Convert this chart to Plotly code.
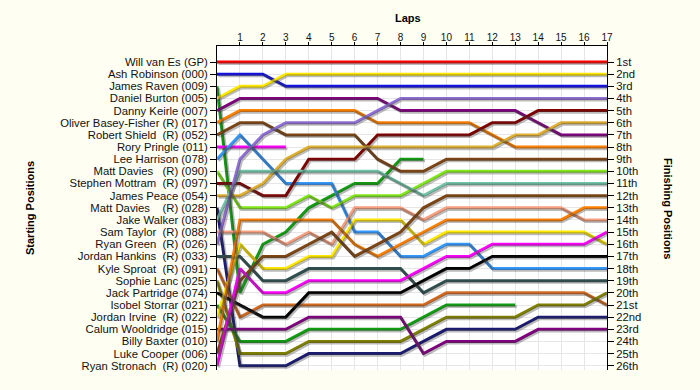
import plotly.graph_objects as go

laps = list(range(18))
lap_ticks = list(range(1, 18))

drivers = [
    "Will van Es (GP)", "Ash Robinson (000)", "James Raven (009)", "Daniel Burton (005)",
    "Danny Keirle (007)", "Oliver Basey-Fisher (R) (017)", "Robert Shield\u00a0\u00a0(R) (052)",
    "Rory Pringle (011)", "Lee Harrison (078)", "Matt Davies\u00a0\u00a0\u00a0(R) (090)",
    "Stephen Mottram\u00a0\u00a0(R) (097)", "James Peace (054)", "Matt Davies\u00a0\u00a0\u00a0\u00a0(R) (028)",
    "Jake Walker (083)", "Sam Taylor\u00a0\u00a0(R) (088)", "Ryan Green\u00a0\u00a0(R) (026)",
    "Jordan Hankins\u00a0\u00a0(R) (033)", "Kyle Sproat\u00a0\u00a0(R) (091)", "Sophie Lanc (025)",
    "Jack Partridge (074)", "Isobel Storrar (021)", "Jordan Irvine\u00a0\u00a0(R) (022)",
    "Calum Wooldridge (015)", "Billy Baxter (010)", "Luke Cooper (006)", "Ryan Stronach\u00a0\u00a0(R) (020)",
]

finish_labels = ["1st", "2nd", "3rd"] + [f"{i}th" for i in range(4, 21)] + ["21st", "22nd", "23rd", "24th", "25th", "26th"]
grid_positions = list(range(1, 27))

# lap-by-lap positions (lap 0 = grid), in starting order
pos_will = [1, 1, 1, 1, 1, 1, 1, 1, 1, 1, 1, 1, 1, 1, 1, 1, 1, 1]
pos_ash = [2, 2, 2, 3, 3, 3, 3, 3, 3, 3, 3, 3, 3, 3, 3, 3, 3, 3]
pos_raven = [3, 20, 16, 15, 13, 12, 11, 11, 9, 9]
pos_burton = [4, 3, 3, 2, 2, 2, 2, 2, 2, 2, 2, 2, 2, 2, 2, 2, 2, 2]
pos_keirle = [5, 4, 4, 4, 4, 4, 4, 4, 5, 5, 5, 5, 5, 5, 6, 7, 7, 7]
pos_basey = [6, 5, 5, 5, 5, 5, 5, 6, 6, 6, 6, 6, 7, 8, 8, 8, 8, 8]
pos_shield = [7, 6, 6, 7, 7, 7, 7, 9, 10, 10, 9, 9, 9, 9, 9, 9, 9, 9]
pos_pringle = [8, 8, 8, 8]
pos_harrison = [9, 7, 9, 11, 11, 11, 15, 15, 17, 17, 16, 16, 18, 18, 18, 18, 18, 18]
pos_davies090 = [10, 13, 13, 13, 12, 13, 12, 12, 12, 11, 10, 10, 10, 10, 10, 10, 10, 10]
pos_mottram = [11, 11, 12, 12, 9, 9, 9, 7, 7, 7, 7, 7, 6, 6, 5, 5, 5, 5]
pos_peace = [12, 12, 11, 9, 8, 8, 8, 8, 8, 8, 8, 8, 8, 7, 7, 6, 6, 6]
pos_davies028 = [13, 26, 26, 26, 25, 25, 25, 25, 25, 24, 23, 23, 23, 23, 22, 22, 22, 22]
pos_walker = [14, 10, 10, 10, 10, 10, 10, 10, 11, 12, 11, 11, 11, 11, 11, 11, 11, 11]
pos_taylor = [15, 15, 15, 16, 15, 16, 13, 13, 13, 14, 13, 13, 13, 13, 13, 13, 14, 14]
pos_green = [16, 9, 7, 6, 6, 6, 6, 5, 4, 4, 4, 4, 4, 4, 4, 4, 4, 4]
pos_hankins = [17, 17, 19, 19, 18, 18, 18, 18, 18, 20, 19, 19, 19, 19, 19, 19, 19, 19]
pos_sproat = [18, 22, 21, 21, 21, 21, 21, 21, 21, 21, 20, 20, 20, 20, 20, 20, 20, 21]
pos_lanc = [19, 25, 25, 25, 24, 24, 24, 24, 24, 23, 22, 22, 22, 22, 21, 21, 21, 20]
pos_partridge = [20, 21, 22, 22, 20, 20, 20, 20, 20, 19, 18, 18, 17, 17, 17, 17, 17, 17]
pos_storrar = [21, 24, 24, 24, 23, 23, 23, 23, 23, 22, 21, 21, 21, 21]
pos_irvine = [22, 16, 18, 18, 17, 17, 14, 14, 14, 16, 15, 15, 15, 15, 15, 15, 15, 16]
pos_wooldridge = [23, 23, 23, 23, 22, 22, 22, 22, 22, 25, 24, 24, 24, 24, 23, 23, 23, 23]
pos_baxter = [24, 14, 14, 14, 14, 14, 16, 17, 16, 15, 14, 14, 14, 14, 14, 14, 13, 13]
pos_cooper = [25, 19, 17, 17, 16, 15, 17, 16, 15, 13, 12, 12, 12, 12, 12, 12, 12, 12]
pos_stronach = [26, 18, 20, 20, 19, 19, 19, 19, 19, 18, 17, 17, 16, 16, 16, 16, 16, 15]

all_positions = [
    pos_will, pos_ash, pos_raven, pos_burton, pos_keirle, pos_basey, pos_shield, pos_pringle,
    pos_harrison, pos_davies090, pos_mottram, pos_peace, pos_davies028, pos_walker, pos_taylor,
    pos_green, pos_hankins, pos_sproat, pos_lanc, pos_partridge, pos_storrar, pos_irvine,
    pos_wooldridge, pos_baxter, pos_cooper, pos_stronach,
]

line_colors = [
    "#ff0000", "#1010e0", "#129c12", "#ffe800", "#800080", "#ff8000", "#7f4512", "#ff00ff",
    "#3399ff", "#80e81a", "#800000", "#e0b030", "#1a1a70", "#72c4a8", "#f7a080", "#9070d8",
    "#2f4f4f", "#d2691e", "#808000", "#000000", "#129c12", "#ffe800", "#800080", "#ff8000",
    "#7f4512", "#ff00ff",
]

FONT = "Liberation Sans, Arial, sans-serif"
BG = "#fefef2"
y_range = [26.35, -0.317]
x_range = [0, 17]
dx = 0.07   # shadow offset in laps (~1.6 px)
dy = 0.13   # shadow offset in positions (~1.6 px)

fig = go.Figure()

# shadows
for pos in all_positions:
    fig.add_trace(go.Scatter(x=laps[:len(pos)], y=pos, mode="lines", xaxis="x2", yaxis="y3",
                             line=dict(color="rgba(60,60,60,0.35)", width=3),
                             hoverinfo="skip", showlegend=False))
# driver lines
for name, pos, col in zip(drivers, all_positions, line_colors):
    fig.add_trace(go.Scatter(x=laps[:len(pos)], y=pos, mode="lines", name=name,
                             line=dict(color=col, width=3), showlegend=False))

# invisible trace to activate right axis
fig.add_trace(go.Scatter(x=[0], y=[1], yaxis="y2", mode="markers",
                         marker=dict(opacity=0), hoverinfo="skip", showlegend=False))

fig.update_layout(
    width=700, height=390,
    margin=dict(l=217, r=93, t=46, b=20),
    paper_bgcolor=BG, plot_bgcolor="#ffffff",
    font=dict(family=FONT, size=11.3, color="#111111"),
    xaxis=dict(range=x_range, side="top", tickvals=lap_ticks, ticks="outside", ticklen=3,
               ticklabelstandoff=-3,
               tickcolor="#000", showline=True, linecolor="#000", linewidth=1,
               showgrid=True, gridcolor="#e6e6e6", gridwidth=1, zeroline=False,
               tickfont=dict(size=10, color="#111"), fixedrange=True),
    xaxis2=dict(range=[x_range[0] - dx, x_range[1] - dx], overlaying="x", visible=False),
    yaxis=dict(range=y_range, tickvals=grid_positions, ticktext=drivers, ticks="outside",
               ticklen=6, tickcolor="#000", showline=True, linecolor="#000", linewidth=1,
               showgrid=True, gridcolor="#e6e6e6", gridwidth=1, zeroline=False,
               tickfont=dict(size=11.3, color="#111")),
    yaxis2=dict(range=y_range, overlaying="y", side="right", tickvals=grid_positions,
                ticktext=finish_labels, ticks="outside", ticklen=6, tickcolor="#000",
                showline=True, linecolor="#000", linewidth=1, showgrid=False, zeroline=False,
                tickfont=dict(size=11.3, color="#111")),
    yaxis3=dict(range=[y_range[0] - dy, y_range[1] - dy], overlaying="y", visible=False),
    annotations=[
        dict(text="<b>Laps</b>", x=0.49, y=1, xref="paper", yref="paper", yshift=28,
             yanchor="middle", showarrow=False, font=dict(size=11, color="#000")),
        dict(text="<b>Starting Positions</b>", x=0, y=0.5, xref="paper", xanchor="center",
             yanchor="middle", xshift=30 - 217,
             yref="paper", showarrow=False, textangle=-90, font=dict(size=11, color="#000")),
        dict(text="<b>Finishing Positions</b>", x=1, y=0.5, xref="paper", yref="paper",
             xanchor="center", yanchor="middle", xshift=668 - 607,
             showarrow=False, textangle=90, font=dict(size=11, color="#000")),
    ],
)

fig.write_html("out.html", config={"displayModeBar": False},
               post_script=f"document.body.style.margin='0';document.body.style.background='{BG}';")
